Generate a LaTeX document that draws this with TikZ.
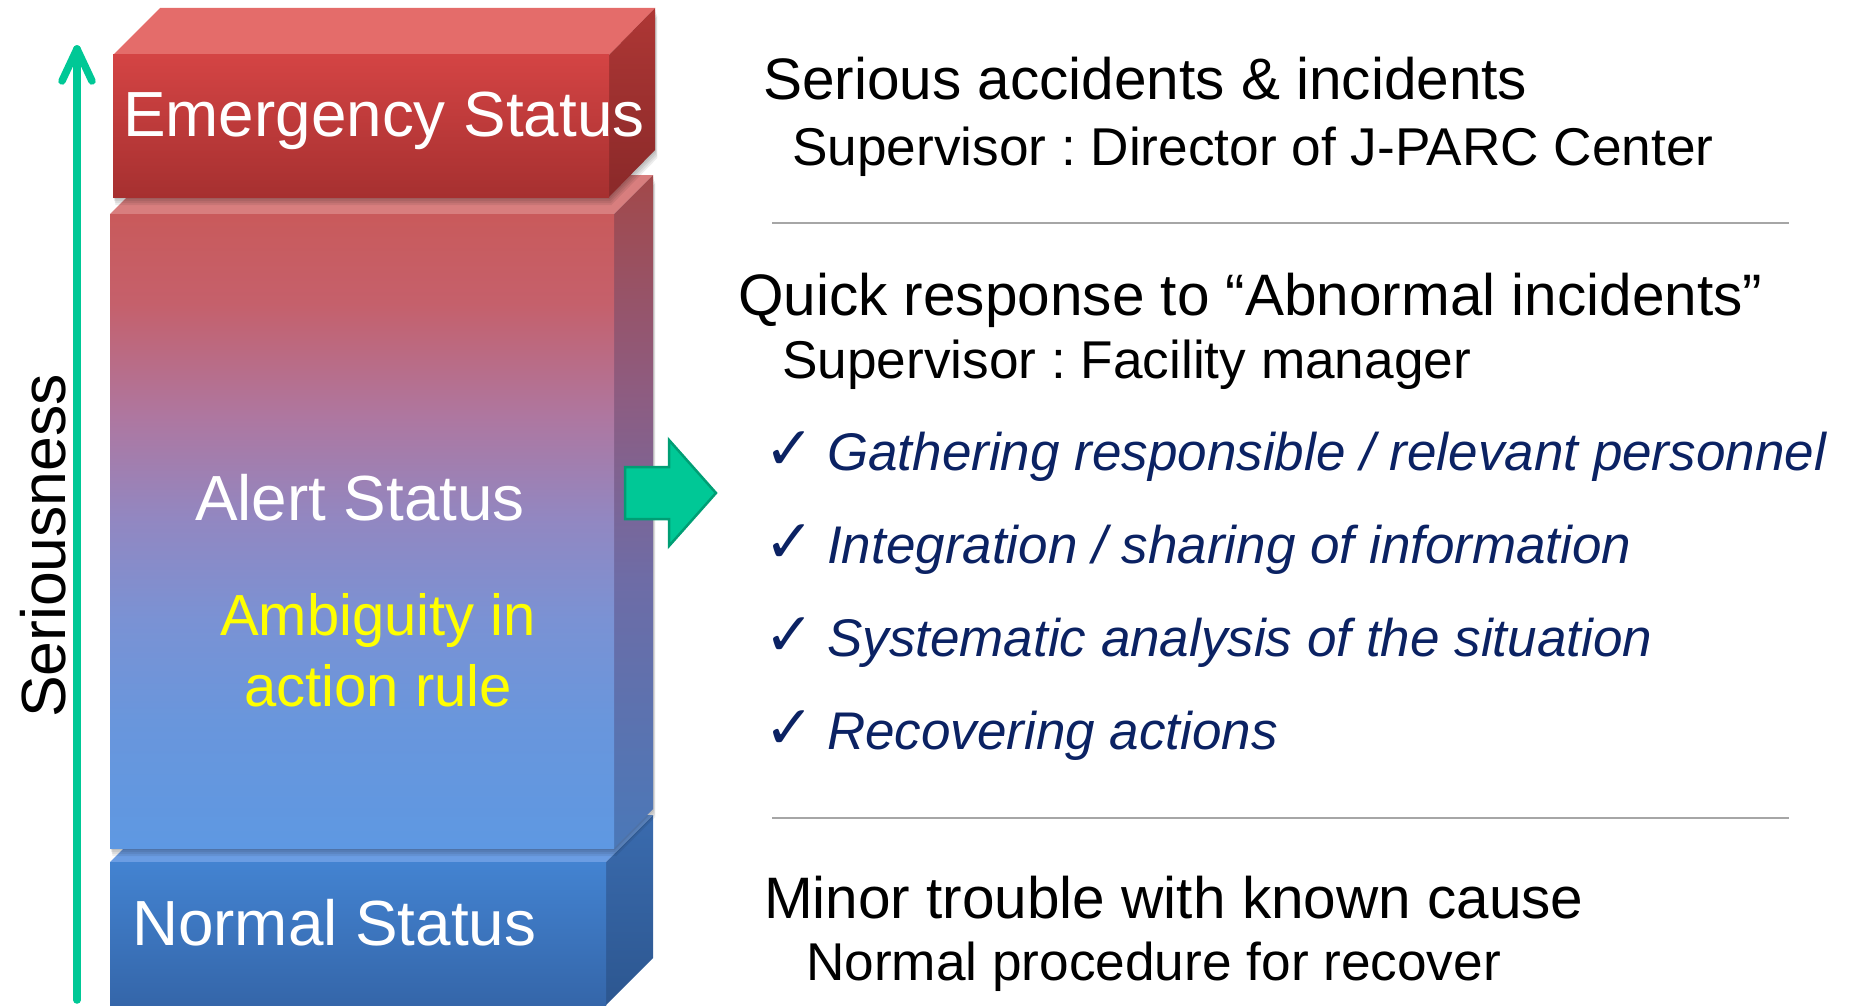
\documentclass[tikz,border=0pt]{standalone}
\usepackage{fontspec}
\setmainfont{Liberation Sans}
\newfontfamily\symfont{DejaVu Sans}
\usetikzlibrary{calc}
\frenchspacing

% palette
\definecolor{seagreen}{HTML}{00C896}
\definecolor{seaedge}{HTML}{009E74}
\definecolor{navy}{HTML}{0B2263}
\definecolor{sepgray}{HTML}{A6A6A6}
\definecolor{amber}{HTML}{FFFF00}
% emergency block
\definecolor{emTop}{HTML}{E46C6A}
\definecolor{emFt}{HTML}{D44444}
\definecolor{emFb}{HTML}{A63030}
\definecolor{emSt}{HTML}{AE3735}
\definecolor{emSb}{HTML}{8A2929}
% alert block
\definecolor{alTop}{HTML}{D87E7E}
\definecolor{alFt}{HTML}{C95A5B}
\definecolor{alF0}{HTML}{C5606B}
\definecolor{alF1}{HTML}{AE77A0}
\definecolor{alF2}{HTML}{9287C1}
\definecolor{alF3}{HTML}{7A92D4}
\definecolor{alF4}{HTML}{6996DC}
\definecolor{alFb}{HTML}{5E98E2}
\definecolor{alSt}{HTML}{A24849}
\definecolor{alS1}{HTML}{8E5C80}
\definecolor{alS2}{HTML}{6E6CA6}
\definecolor{alSb}{HTML}{4A78B8}
% normal block
\definecolor{noTop}{HTML}{6B9DE3}
\definecolor{noFt}{HTML}{4383D1}
\definecolor{noFb}{HTML}{3465A8}
\definecolor{noSt}{HTML}{3A6BAE}
\definecolor{noSb}{HTML}{2C568F}

% red-to-blue gradients of the tall middle block
\pgfdeclareverticalshading{alertfront}{100bp}{color(0bp)=(alFb); color(25bp)=(alFb);
  color(35bp)=(alF4); color(43bp)=(alF3); color(51bp)=(alF2); color(59bp)=(alF1);
  color(68bp)=(alF0); color(75bp)=(alFt); color(100bp)=(alFt)}
\pgfdeclareverticalshading{alertside}{100bp}{color(0bp)=(alSb); color(25bp)=(alSb);
  color(45bp)=(alS2); color(59bp)=(alS1); color(75bp)=(alSt); color(100bp)=(alSt)}

\tikzset{
  boxlabel/.style={text=white, inner sep=0pt, font=\fontsize{63.8}{70}\selectfont},
  ambig/.style={text=amber, inner sep=0pt, anchor=base, font=\fontsize{58}{66}\selectfont},
  headline/.style={text=black, inner sep=0pt, anchor=base west, font=\fontsize{58.5}{66}\selectfont},
  subline/.style={text=black, inner sep=0pt, anchor=base west, font=\fontsize{53.2}{60}\selectfont},
  item/.style={text=navy, inner sep=0pt, anchor=base west, font=\fontsize{53}{60}\selectfont\itshape},
  tick/.style={text=navy, inner sep=0pt, anchor=base west, font=\symfont\fontsize{60}{64}\selectfont},
  sepline/.style={draw=sepgray, line width=2pt},
  greenline/.style={draw=seagreen, line width=7.5pt, line cap=round, line join=round},
  blockarrow/.style={fill=seagreen, draw=seaedge, line width=2.5pt, line join=miter},
  softshadow/.style={fill=black, opacity=0.07},
}

\begin{document}
\begin{tikzpicture}[x=1pt, y=-1pt]
\useasboundingbox (0,0) rectangle (1850,1006);

% ---------- Normal Status block (bottom) ----------
\fill[noTop] (110,862) -- (157,815) -- (653,815) -- (606,862) -- cycle;
\shade[top color=noSt, bottom color=noSb] (606,862) -- (653,815) -- (653,958) -- (606,1005) -- (606,1010) -- cycle;
\shade[top color=noFt, bottom color=noFb] (110,862) rectangle (606,1010);

% shadow of the middle block
\foreach \d in {2,4,6,8}
  \fill[softshadow] (110+0.3*\d,214+\d) -- (614+0.3*\d,214+\d) -- (653+0.3*\d,175+\d) -- (653+0.3*\d,809+\d) -- (614+0.3*\d,848+\d) -- (110+0.3*\d,848+\d) -- cycle;

% ---------- Alert Status block (middle) ----------
\fill[alTop] (110,214) -- (149,175) -- (653,175) -- (614,214) -- cycle;
\shade[shading=alertside] (614,214) -- (653,175) -- (653,809) -- (614,848) -- cycle;
\shade[shading=alertfront] (110,214) rectangle (614,848);

% shadow of the top block
\foreach \d in {2,4,6,8}
  \fill[softshadow] (113+0.3*\d,55+\d) -- (609+0.3*\d,55+\d) -- (655+0.3*\d,8+\d) -- (655+0.3*\d,150+\d) -- (609+0.3*\d,197+\d) -- (113+0.3*\d,197+\d) -- cycle;

% ---------- Emergency Status block (top) ----------
\fill[emTop] (113,55) -- (160,8) -- (655,8) -- (609,55) -- cycle;
\shade[top color=emSt, bottom color=emSb] (609,55) -- (655,8) -- (655,150) -- (609,197) -- cycle;
\shade[top color=emFt, bottom color=emFb] (113,55) rectangle (609,197);

% block labels
\node[boxlabel, anchor=base west] (emer) at (123,137) {Emergency Status};
\node[boxlabel, anchor=base] (alert) at (360,520) {Alert Status};
\node[ambig] (amb1) at (378,635) {Ambiguity in};
\node[ambig] (amb2) at (378,706) {action rule};
\node[boxlabel, anchor=base west] (normal) at (132,945) {Normal Status};

% ---------- seriousness axis ----------
\coordinate (axbase) at (77,1000);
\coordinate (axtip) at (77,49);
\draw[greenline] (axbase) -- (axtip);
\draw[greenline] ($(axtip)+(-15,32)$) -- (axtip) -- ($(axtip)+(15,32)$);
\node[inner sep=0pt, rotate=90, anchor=base, font=\fontsize{62.5}{70}\selectfont] (seri) at (65,546) {Seriousness};

% ---------- block arrow to the alert description ----------
\coordinate (ba) at (625,467);
\draw[blockarrow] (ba) -- ++(44,0) -- ++(0,-27) -- ++(47,53) -- ++(-47,53) -- ++(0,-27) -- ++(-44,0) -- cycle;

% ---------- descriptions ----------
\node[headline] (t1) at (763,100) {Serious accidents \& incidents};
\node[subline] (t1s) at (792,165) {Supervisor : Director of J-PARC Center};

\coordinate (s1a) at (772,223);
\coordinate (s1b) at (1789,223);
\draw[sepline] (s1a) -- (s1b);

\node[headline] (t2) at (738,315) {Quick response to “Abnormal incidents”};
\node[subline] (t2s) at (782,378) {Supervisor : Facility manager};

\node[tick] (c1) at (764,469) {✓};
\node[item] (i1) at (827,470) {Gathering responsible / relevant personnel};
\node[tick] (c2) at (764,562) {✓};
\node[item] (i2) at (827,563) {Integration / sharing of information};
\node[tick] (c3) at (764,655) {✓};
\node[item] (i3) at (827,656) {Systematic analysis of the situation};
\node[tick] (c4) at (764,748) {✓};
\node[item] (i4) at (827,749) {Recovering actions};

\coordinate (s2a) at (772,818);
\coordinate (s2b) at (1789,818);
\draw[sepline] (s2a) -- (s2b);

\node[headline] (t3) at (764,918) {Minor trouble with known cause};
\node[subline] (t3s) at (806,980) {Normal procedure for recover};
\end{tikzpicture}
\end{document}
